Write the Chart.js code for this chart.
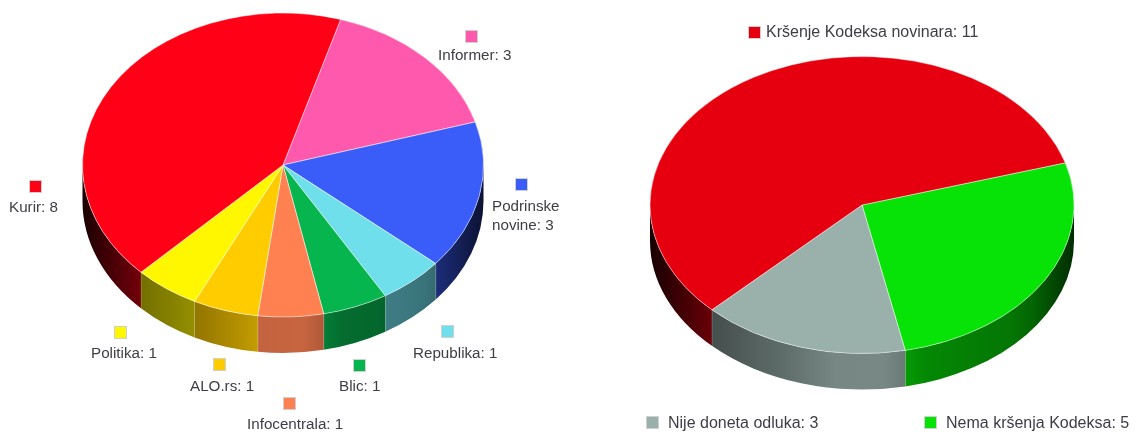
<!DOCTYPE html>
<html>
<head>
<meta charset="utf-8">
<title>Pie charts</title>
<style>
html,body{margin:0;padding:0;background:#fff;width:1136px;height:433px;overflow:hidden}
canvas{position:absolute;top:0}
#left{left:0}
#right{left:588px}
</style>
<script src="https://cdn.jsdelivr.net/npm/chart.js@4"></script>
</head>
<body>
<canvas id="left" width="566" height="433"></canvas>
<canvas id="right" width="548" height="433"></canvas>
<script>
// Data, left pie (clockwise from the Informer slice)
const leftCategories = ["Informer", "Podrinske novine", "Republika", "Blic", "Infocentrala", "ALO.rs", "Politika", "Kurir"];
const leftValues = [3, 3, 1, 1, 1, 1, 1, 8];
const leftColors = ["#ff59ae", "#3a5cf8", "#6fdfec", "#06b54e", "#ff8152", "#ffcc00", "#fff700", "#ff0016"];

// Data, right pie
const rightCategories = ["Nema kršenja Kodeksa", "Nije doneta odluka", "Kršenje Kodeksa novinara"];
const rightValues = [5, 3, 11];
const rightColors = ["#07e307", "#9ab0ab", "#e6000f"];

// Label placement, page pixels: marker x, marker y, text x, text centre y for each line
const leftLabelPlaces = [
  {mx:466,my:31,tx:438,lines:[["Informer: 3",56]]},
  {mx:516,my:179,tx:492,lines:[["Podrinske",207],["novine: 3",226]]},
  {mx:442,my:326,tx:413,lines:[["Republika: 1",354]]},
  {mx:354,my:360,tx:339,lines:[["Blic: 1",387]]},
  {mx:284,my:398,tx:247,lines:[["Infocentrala: 1",425]]},
  {mx:214,my:359,tx:190,lines:[["ALO.rs: 1",387]]},
  {mx:115,my:327,tx:91,lines:[["Politika: 1",354]]},
  {mx:30,my:181,tx:9,lines:[["Kurir: 8",208]]}
];
const rightLabelPlaces = [
  {mx:925,my:417,tx:946,lines:[["Nema kršenja Kodeksa: 5",424]]},
  {mx:647,my:417,tx:668,lines:[["Nije doneta odluka: 3",424]]},
  {mx:749,my:27,tx:766,lines:[["Kršenje Kodeksa novinara: 11",33]]}
];

// Wall shading across the pie's width: [fraction of width, brightness]
const wallShade = [[0,.1],[.145,.45],[.3,.6],[.44,.77],[.55,.78],[.65,.6],[.85,.52],[.9,.45],[1,.2]];

function shade(hex, f){
  const n = parseInt(hex.slice(1),16);
  return `rgb(${Math.round((n>>16&255)*f)},${Math.round((n>>8&255)*f)},${Math.round((n&255)*f)})`;
}

function pie3d(cfg){
  return {
    id:'pie3d',
    beforeDatasetDraw(chart){
      const ctx = chart.ctx, arcs = chart.getDatasetMeta(0).data;
      const cx = arcs[0].x, rx = arcs[0].outerRadius, k = cfg.ry/rx, colors = chart.data.datasets[0].backgroundColor;
      ctx.save();
      arcs.forEach((arc,i)=>{
        for(let s=-1;s<=1;s++){
          const a0 = Math.max(arc.startAngle+s*2*Math.PI,0), a1 = Math.min(arc.endAngle+s*2*Math.PI,Math.PI);
          if(a1<=a0) continue;
          const g = ctx.createLinearGradient(cx-rx,0,cx+rx,0);
          wallShade.forEach(st=>g.addColorStop(st[0],shade(colors[i],st[1])));
          ctx.beginPath();
          ctx.ellipse(cx,cfg.cy,rx,cfg.ry,0,a0,a1);
          ctx.ellipse(cx,cfg.cy+cfg.depth,rx,cfg.ry,0,a1,a0,true);
          ctx.closePath();
          ctx.fillStyle = g;
          ctx.fill();
          ctx.strokeStyle = 'rgba(255,255,255,.3)';
          ctx.lineWidth = 1;
          ctx.beginPath();
          const x = cx+rx*Math.cos(a1), y = cfg.cy+cfg.ry*Math.sin(a1);
          if(a1<Math.PI){ ctx.moveTo(x,y); ctx.lineTo(x,y+cfg.depth); ctx.stroke(); }
        }
      });
      ctx.restore();
      ctx.save();
      ctx.translate(cx,cfg.cy);
      ctx.scale(1,k);
      ctx.translate(-cx,-arcs[0].y);
    },
    afterDatasetDraw(chart){ chart.ctx.restore(); },
    afterDraw(chart){
      const ctx = chart.ctx, colors = chart.data.datasets[0].backgroundColor;
      ctx.save();
      ctx.font = cfg.font + 'px "Liberation Sans", Arial, sans-serif';
      ctx.textBaseline = 'middle';
      ctx.textAlign = 'left';
      cfg.places.forEach((p,i)=>{
        ctx.fillStyle = colors[i];
        ctx.fillRect(p.mx-cfg.offset,p.my,11,11);
        ctx.strokeStyle = 'rgba(170,170,170,.55)';
        ctx.lineWidth = 1;
        ctx.strokeRect(p.mx-cfg.offset-.5,p.my-.5,12,12);
        ctx.fillStyle = '#3d3d45';
        p.lines.forEach(l=>ctx.fillText(l[0],p.tx-cfg.offset,l[1]));
      });
      ctx.restore();
    }
  };
}

function makePie(id, categories, values, colors, rotation, radius, cfg){
  return new Chart(document.getElementById(id),{
    type:'pie',
    data:{labels:categories,datasets:[{data:values,backgroundColor:colors,borderColor:'rgba(255,255,255,.55)',borderWidth:1,radius:radius,clip:false}]},
    options:{
      responsive:false,animation:false,rotation:rotation,
      layout:{padding:0},
      plugins:{legend:{display:false},tooltip:{enabled:false}}
    },
    plugins:[pie3d(cfg)]
  });
}

makePie('left',leftCategories,leftValues,leftColors,16.7,200.5,{cy:165,ry:152,depth:36,places:leftLabelPlaces,offset:0,font:15.2});
makePie('right',rightCategories,rightValues,rightColors,73.5,212,{cy:205,ry:148.5,depth:36,places:rightLabelPlaces,offset:588,font:16});
</script>
</body>
</html>
